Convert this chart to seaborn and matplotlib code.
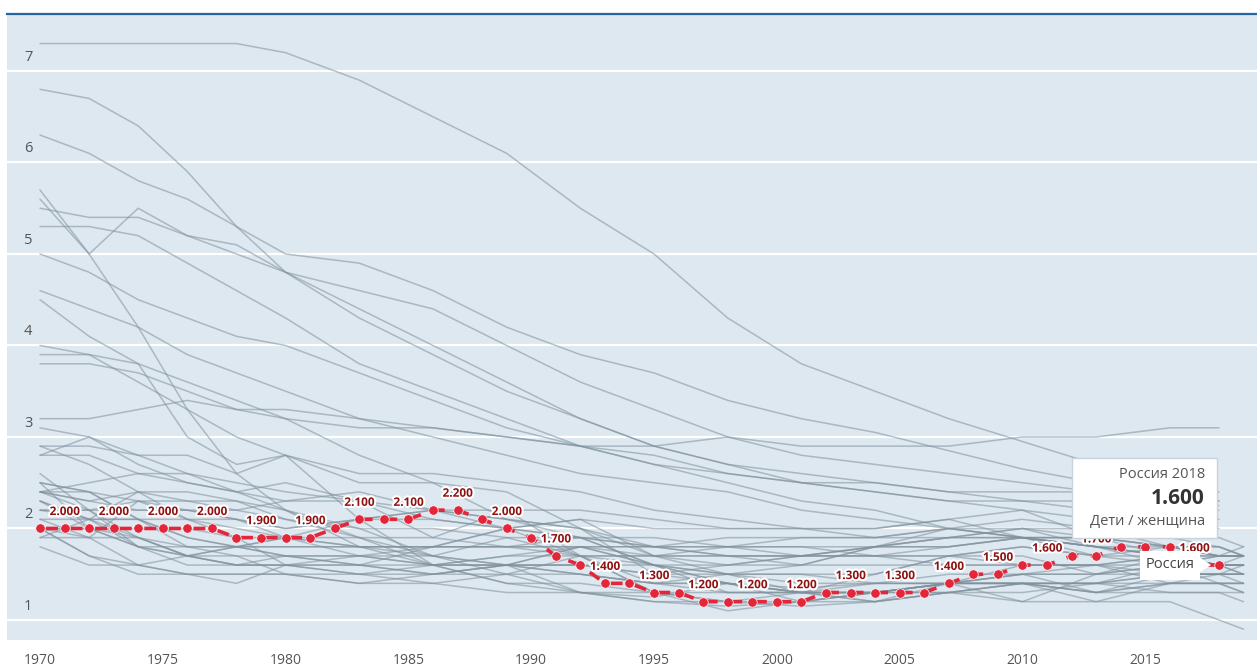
import numpy as np
import pandas as pd
import matplotlib
matplotlib.use("Agg")
import matplotlib.pyplot as plt
import matplotlib.patheffects as pe
from matplotlib.patches import Rectangle, Polygon
import seaborn as sns

# --- data -------------------------------------------------------------
years_ru = list(range(1970, 2019))
russia_tfr = [2.0, 2.0, 2.0, 2.0, 2.0, 2.0, 2.0, 2.0, 1.9, 1.9, 1.9, 1.9, 2.0, 2.1, 2.1, 2.1,
              2.2, 2.2, 2.1, 2.0, 1.9, 1.7, 1.6, 1.4, 1.4, 1.3, 1.3, 1.2, 1.2, 1.2, 1.2, 1.2,
              1.3, 1.3, 1.3, 1.3, 1.3, 1.4, 1.5, 1.5, 1.6, 1.6, 1.7, 1.7, 1.8, 1.8, 1.8, 1.6, 1.6]

# other countries, sampled at these years (nan = no value)
years_other = [1970, 1972, 1974, 1976, 1978, 1980, 1983, 1986, 1989, 1992,
               1995, 1998, 2001, 2004, 2007, 2010, 2013, 2016, 2018, 2019]
nan = np.nan
other_tfr = [
    [7.3, 7.3, 7.3, 7.3, 7.3, 7.2, 6.9, 6.5, 6.1, 5.5, 5.0, 4.3, 3.8, 3.5, 3.2, 2.95, 2.7, 2.45, 2.3, nan],
    [6.8, 6.7, 6.4, 5.9, 5.3, 4.8, 4.4, 4.0, 3.6, 3.2, 2.9, 2.7, 2.6, 2.5, 2.4, 2.3, 2.2, 2.2, 2.1, nan],
    [6.3, 6.1, 5.8, 5.6, 5.3, 5.0, 4.9, 4.6, 4.2, 3.9, 3.7, 3.4, 3.2, 3.05, 2.85, 2.65, 2.5, 2.35, 2.25, nan],
    [5.7, 5.0, 4.2, 3.3, 2.6, 2.8, 2.5, 2.5, 2.4, 2.0, 1.7, 1.6, 1.6, 1.6, 1.6, 1.6, 1.6, 1.7, 1.6, nan],
    [5.6, 5.0, 5.5, 5.2, 5.1, 4.8, 4.3, 3.9, 3.5, 3.2, 2.9, 2.7, 2.5, 2.4, 2.3, 2.2, 2.1, 2.1, 2.0, nan],
    [5.5, 5.4, 5.4, 5.2, 5.0, 4.8, 4.6, 4.4, 4.0, 3.6, 3.3, 3.0, 2.8, 2.7, 2.6, 2.5, 2.4, 2.4, 2.4, nan],
    [5.3, 5.3, 5.2, 4.9, 4.6, 4.3, 3.8, 3.5, 3.2, 2.9, 2.7, 2.6, 2.5, 2.5, 2.4, 2.4, 2.4, 2.3, 2.3, nan],
    [5.0, 4.8, 4.5, 4.3, 4.1, 4.0, 3.7, 3.4, 3.1, 2.9, 2.7, 2.5, 2.3, 2.2, 2.0, 1.9, 1.9, 1.8, 1.8, 1.7],
    [4.6, 4.4, 4.2, 3.9, 3.7, 3.5, 3.2, 3.0, 2.8, 2.6, 2.5, 2.4, 2.2, 2.1, 2.0, 1.9, 1.8, 1.7, 1.7, 1.7],
    [4.5, 4.1, 3.8, 3.0, 2.7, 2.8, 2.1, 1.6, 1.6, 1.8, 1.6, 1.5, 1.3, 1.2, 1.3, 1.2, 1.2, 1.2, 1.0, 0.9],
    [4.0, 3.9, 3.6, 3.3, 3.0, 2.8, 2.6, 2.6, 2.5, 2.4, 2.2, 2.1, 2.0, 1.9, 1.9, 1.9, 1.8, 1.7, 1.6, 1.6],
    [3.9, 3.9, 3.8, 3.6, 3.4, 3.2, 3.1, 3.1, 3.0, 2.9, 2.9, 3.0, 2.9, 2.9, 2.9, 3.0, 3.0, 3.1, 3.1, nan],
    [3.8, 3.8, 3.7, 3.5, 3.3, 3.2, 2.8, 2.5, 2.1, 2.0, 1.8, 1.9, 1.9, 1.9, 2.0, 2.1, 2.0, 1.8, 1.8, 1.7],
    [3.2, 3.2, 3.3, 3.4, 3.3, 3.3, 3.2, 3.1, 3.0, 2.9, 2.8, 2.6, 2.5, 2.4, 2.3, 2.3, 2.3, 2.3, 2.2, nan],
    [3.1, 3.0, 2.8, 2.6, 2.5, 2.4, 2.3, 2.1, 2.0, 1.9, 1.8, 1.8, 1.8, 1.7, 1.7, 1.8, 1.7, 1.6, 1.6, 1.6],
    [2.9, 2.7, 2.4, 2.1, 2.0, 1.9, 1.9, 1.9, 1.8, 1.9, 1.8, 1.8, 1.7, 1.8, 2.0, 1.9, 1.9, 1.8, 1.7, 1.7],
    [2.9, 2.9, 2.8, 2.8, 2.6, 2.2, 1.8, 1.6, 1.4, 1.3, 1.2, 1.15, 1.2, 1.3, 1.4, 1.4, 1.3, 1.3, 1.3, 1.2],
    [2.8, 2.8, 2.6, 2.6, 2.4, 2.2, 2.0, 1.7, 1.6, 1.5, 1.4, 1.5, 1.5, 1.4, 1.4, 1.4, 1.2, 1.4, 1.4, 1.4],
    [2.8, 3.0, 2.7, 2.5, 2.4, 2.5, 2.3, 1.9, 2.2, 2.2, 2.1, 2.0, 2.0, 2.0, 2.1, 2.2, 1.9, 1.7, 1.7, 1.8],
    [2.6, 2.2, 1.8, 1.6, 1.6, 1.6, 1.5, 1.6, 1.6, 1.6, 1.5, 1.6, 1.7, 1.7, 1.7, 1.8, 1.7, 1.7, 1.6, 1.6],
    [2.5, 2.0, 1.8, 1.7, 1.8, 1.8, 1.8, 1.8, 2.0, 2.1, 2.0, 2.0, 2.0, 2.0, 2.1, 1.9, 1.9, 1.8, 1.7, 1.7],
    [2.5, 2.4, 2.1, 1.8, 1.8, 1.9, 1.8, 1.8, 1.8, 1.7, 1.7, 1.8, 1.9, 1.9, 2.0, 2.0, 2.0, 1.9, 1.9, 1.8],
    [2.5, 2.4, 2.1, 1.9, 1.8, 1.7, 1.7, 1.7, 1.9, 1.9, 1.9, 1.8, 1.8, 1.8, 1.9, 2.0, 1.8, 1.7, 1.6, 1.5],
    [2.4, 2.2, 1.9, 1.7, 1.8, 1.9, 1.8, 1.8, 1.8, 1.8, 1.7, 1.7, 1.6, 1.8, 1.9, 1.9, 1.8, 1.8, 1.7, 1.7],
    [2.4, 2.4, 2.3, 2.1, 1.9, 1.6, 1.5, 1.4, 1.3, 1.3, 1.2, 1.2, 1.3, 1.3, 1.4, 1.4, 1.4, 1.3, 1.3, 1.3],
    [2.4, 2.3, 2.4, 2.3, 2.3, 2.2, 1.9, 1.6, 1.4, 1.4, 1.3, 1.3, 1.3, 1.3, 1.4, 1.5, 1.3, 1.4, 1.4, 1.3],
    [2.4, 2.3, 2.2, 2.2, 2.1, 2.0, 2.1, 2.1, 2.0, 1.9, 1.6, 1.4, 1.3, 1.3, 1.4, 1.5, 1.6, 1.7, 1.6, 1.6],
    [2.4, 2.5, 2.6, 2.5, 2.4, 2.3, 2.3, 2.2, 2.1, 2.0, 1.5, 1.4, 1.2, 1.2, 1.3, 1.4, 1.3, 1.5, 1.5, 1.6],
    [2.3, 2.0, 1.8, 1.8, 1.8, 1.7, 1.7, 1.6, 1.7, 1.7, 1.6, 1.5, 1.5, 1.5, 1.7, 1.6, 1.6, 1.5, 1.5, 1.5],
    [2.3, 2.1, 1.8, 1.7, 1.7, 1.7, 1.6, 1.5, 1.6, 1.6, 1.6, 1.6, 1.7, 1.7, 1.8, 1.9, 1.8, 1.7, 1.6, 1.6],
    [2.3, 2.1, 1.9, 1.7, 1.6, 1.6, 1.6, 1.5, 1.5, 1.5, 1.4, 1.4, 1.3, 1.4, 1.4, 1.4, 1.4, 1.5, 1.5, 1.5],
    [2.2, 2.2, 2.3, 2.3, 2.2, 2.3, 2.4, 2.2, 2.1, 1.9, 1.6, 1.4, 1.3, 1.2, 1.3, 1.4, 1.3, 1.4, 1.5, 1.4],
    [2.2, 2.1, 2.1, 2.1, 2.1, 2.0, 2.1, 2.2, 2.2, 1.7, 1.4, 1.3, 1.3, 1.5, 1.7, 1.7, 1.5, 1.6, 1.7, 1.7],
    [2.2, 2.2, 2.2, 2.2, 2.2, 2.1, 1.9, 1.7, 1.5, 1.3, 1.3, 1.2, 1.2, 1.3, 1.4, 1.6, 1.6, 1.6, 1.6, 1.7],
    [2.1, 2.1, 2.1, 1.9, 1.8, 1.8, 1.8, 1.7, 1.6, 1.5, 1.4, 1.4, 1.3, 1.3, 1.3, 1.4, 1.4, 1.4, 1.4, 1.4],
    [2.1, 1.9, 1.6, 1.5, 1.5, 1.5, 1.5, 1.5, 1.6, 1.6, 1.5, 1.5, 1.4, 1.4, 1.5, 1.5, 1.5, 1.5, 1.5, 1.5],
    [2.0, 1.7, 1.5, 1.5, 1.4, 1.6, 1.6, 1.6, 1.6, 1.3, 1.25, 1.4, 1.35, 1.4, 1.4, 1.4, 1.4, 1.6, 1.6, 1.5],
    [2.0, 1.9, 2.3, 2.2, 2.1, 1.9, 1.7, 1.8, 1.8, 1.8, 1.6, 1.3, 1.3, 1.3, 1.3, 1.3, 1.4, 1.5, 1.5, 1.5],
    [2.0, 2.0, 2.0, 2.0, 1.9, 1.9, 2.1, 2.2, 2.0, 1.7, 1.3, 1.1, 1.2, 1.3, 1.4, 1.2, 1.5, 1.7, 1.6, 1.6],
    [2.0, 2.0, 1.9, 1.8, 1.7, 1.5, 1.4, 1.5, 1.6, 1.8, 1.8, 1.7, 1.7, 1.8, 1.8, 1.9, 1.7, 1.8, 1.7, 1.7],
    [1.9, 2.1, 2.4, 2.4, 2.3, 2.1, 2.0, 2.0, 1.9, 1.7, 1.3, 1.2, 1.15, 1.2, 1.4, 1.5, 1.5, 1.6, 1.7, 1.7],
    [1.9, 1.9, 1.9, 1.7, 1.6, 1.7, 1.6, 1.8, 2.0, 2.1, 1.7, 1.5, 1.6, 1.8, 1.9, 2.0, 1.9, 1.9, 1.8, 1.7],
    [1.8, 1.6, 1.6, 1.7, 1.6, 1.6, 1.7, 1.6, 1.7, 1.8, 1.8, 1.7, 1.7, 1.8, 1.8, 1.9, 1.8, 1.6, 1.4, 1.4],
    [2.0, 1.7, 1.6, 1.5, 1.5, 1.5, 1.4, 1.4, 1.5, 1.7, 1.7, 1.7, 1.7, 1.7, 1.6, 1.6, 1.6, 1.4, 1.4, 1.3],
]

# value labels on every second year (2015 sits fully under the tooltip, so it is left out)
label_years = [y for y in range(1971, 2018, 2) if y != 2015]
x_ticks = [1970, 1975, 1980, 1985, 1990, 1995, 2000, 2005, 2010, 2015]

# --- build long table --------------------------------------------------
rows = []
for i, vals in enumerate(other_tfr):
    for yr, v in zip(years_other, vals):
        rows.append((f"c{i}", yr, v))
df_other = pd.DataFrame(rows, columns=["country", "year", "tfr"]).dropna()
df_ru = pd.DataFrame({"year": years_ru, "tfr": russia_tfr})

# --- style -------------------------------------------------------------
bg = "#dde8f0"
sns.set_style("white", {"axes.facecolor": bg})
plt.rcParams["font.family"] = ["Open Sans", "DejaVu Sans"]
plt.rcParams["lines.scale_dashes"] = False

W, H = 1257, 668
fig = plt.figure(figsize=(W / 100, H / 100), dpi=100)
ax = fig.add_axes([7 / W, 28 / H, 1250 / W, 626 / H])
ax.set_xlim(1968.656, 2019.55)
ax.set_ylim(0.781, 7.623)

# grid lines
for v in range(1, 8):
    ax.axhline(v, color="white", lw=1.6, zorder=1)

# grey country lines
sns.lineplot(data=df_other, x="year", y="tfr", units="country", estimator=None,
             color="#7f909c", lw=1.1, alpha=0.55, ax=ax, zorder=2, legend=False)

# Russia
red = "#e3263a"
sns.lineplot(data=df_ru, x="year", y="tfr", color=red, lw=2.6, marker="o",
             markersize=6.8, markeredgecolor="white", markeredgewidth=0.5,
             ax=ax, zorder=5, legend=False)
ru_line = ax.lines[-1]
ru_line.set_linestyle((13.4, (8.6, 9.1)))

for yr in label_years:
    val = russia_tfr[years_ru.index(yr)]
    ax.annotate(f"{val:.3f}", (yr, val), xytext=(0, 12.2), textcoords="offset points",
                ha="center", va="center", fontsize=8.5, fontweight="bold", color="#8e1212",
                zorder=6,
                path_effects=[pe.withStroke(linewidth=3, foreground="white")])

# axes decoration
for s in ["left", "right", "bottom"]:
    ax.spines[s].set_visible(False)
ax.spines["top"].set_color("#2465a3")
ax.spines["top"].set_linewidth(1.6)
ax.set_yticks([])
ax.set_xticks(x_ticks)
ax.set_xticklabels([str(t) for t in x_ticks])
ax.tick_params(axis="x", direction="in", length=7, width=1.5, color="white",
               labelsize=10, labelcolor="#555555", pad=9)
ax.set_xlabel("")
ax.set_ylabel("")

blend = ax.get_yaxis_transform()
for v in range(1, 8):
    ax.text(0.017, v + 0.07, str(v), transform=blend, ha="center", va="bottom",
            fontsize=10.5, color="#555555", zorder=3)

# tooltip boxes (figure pixel coords, measured from top)
def fx(px):
    return px / W


def fy(py):
    return 1 - py / H


tip = Rectangle((fx(1072), fy(538)), (1217 - 1072) / W, (538 - 458) / H,
                transform=fig.transFigure, facecolor="white", edgecolor="#c9d3dc",
                lw=1, zorder=20)
fig.add_artist(tip)
fig.text(fx(1205), fy(474), "Россия 2018", ha="right", va="center", fontsize=10.5,
         color="#555555", zorder=21)
fig.text(fx(1205), fy(499), "1.600", ha="right", va="center", fontsize=15,
         fontweight="bold", color="#333333", zorder=21)
fig.text(fx(1205), fy(522), "Дети / женщина", ha="right", va="center", fontsize=10.5,
         color="#555555", zorder=21)

lab = Rectangle((fx(1140), fy(580)), 60 / W, 29 / H, transform=fig.transFigure,
                facecolor="white", edgecolor="none", zorder=20)
fig.add_artist(lab)
arrow = Polygon([(fx(1199), fy(557)), (fx(1211), fy(565)), (fx(1199), fy(573))],
                closed=True, transform=fig.transFigure, facecolor="white",
                edgecolor="none", zorder=20)
fig.add_artist(arrow)
fig.text(fx(1170), fy(565), "Россия", ha="center", va="center", fontsize=10.5,
         color="#444444", zorder=21)

fig.savefig("out.png", dpi=100, facecolor="white")
